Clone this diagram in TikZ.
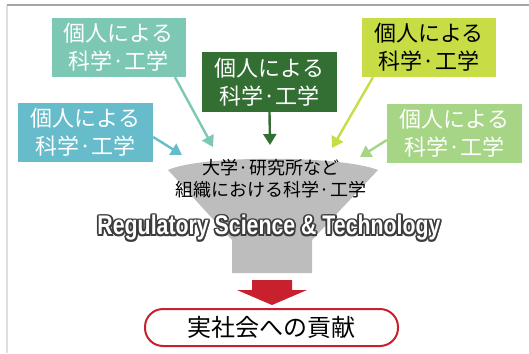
\documentclass[tikz,border=0pt]{standalone}
\usepackage{fontspec}
\usepackage{graphicx}
\setmainfont{Liberation Sans}
\newfontfamily\jp{Noto Sans CJK JP}
\usetikzlibrary{arrows.meta}
\definecolor{colA}{HTML}{7CC8B4}
\definecolor{colB}{HTML}{66BCCA}
\definecolor{colC}{HTML}{336E33}
\definecolor{colD}{HTML}{C8DC46}
\definecolor{colE}{HTML}{A6D586}
\definecolor{redc}{HTML}{C8202C}
\definecolor{funnelgray}{HTML}{BDBDBD}
\definecolor{regout}{HTML}{3C3C3C}
\tikzset{
  srcbox/.style={rectangle, inner sep=0pt, minimum width=134pt, minimum height=59pt,
    font=\jp\fontsize{22pt}{28pt}\selectfont, align=center},
  flow/.style={line width=2.4pt, -{Triangle[length=11pt,width=13pt]}},
  regtext/.style={inner sep=0pt, font=\bfseries},
}
\newcommand{\regline}{\resizebox{343pt}{19.5pt}{Regulatory Science \& Technology}}
\newcommand{\outcopy}[2]{\rlap{\hspace*{#1}\raisebox{#2}{\textcolor{regout}{\regline}}}}
\newcommand{\regoutlined}{\leavevmode
  \outcopy{1.8pt}{0pt}\outcopy{-1.8pt}{0pt}\outcopy{0pt}{1.8pt}\outcopy{0pt}{-1.8pt}%
  \outcopy{1.3pt}{1.3pt}\outcopy{-1.3pt}{1.3pt}\outcopy{1.3pt}{-1.3pt}\outcopy{-1.3pt}{-1.3pt}%
  \textcolor{white}{\regline}}
\begin{document}
\begin{tikzpicture}[x=1pt,y=-1pt]
\useasboundingbox (0,0) rectangle (529,353);
% frame lines
\draw[gray!25, line width=1.5pt] (7,5) -- (7,353);
\draw[gray!70, line width=1.5pt] (7,5) -- (529,5);
% funnel
\fill[funnelgray] (168,170) .. controls (200,155) and (340,155) .. (378,170)
  -- (312,240) -- (312,273) -- (232,273) -- (232,240) -- cycle;
% source boxes
\node[srcbox, fill=colA, text=white] (a) at (118.5,47.5) {個人による\\科学·工学};
\node[srcbox, fill=colB, text=white, minimum width=135pt] (b) at (85.5,132.5) {個人による\\科学·工学};
\node[srcbox, fill=colC, text=white, minimum width=135pt, minimum height=60pt] (c) at (269.5,82) {個人による\\科学·工学};
\node[srcbox, fill=colD, text=black] (d) at (429,47.5) {個人による\\科学·工学};
\node[srcbox, fill=colE, text=white, minimum width=135pt] (e) at (454.5,133.5) {個人による\\科学·工学};
% arrow targets
\coordinate (ta) at (213,147);
\coordinate (tb) at (182,155);
\coordinate (tc) at (270,145);
\coordinate (td) at (332,148);
\coordinate (te) at (360,157);
\draw[flow, colA] ([xshift=56.5pt]a.south) -- (ta);
\draw[flow, colB] ([yshift=-4.5pt]b.east) -- (tb);
\draw[flow, colC] (c.south) -- (tc);
\draw[flow, colD] ([xshift=-56pt]d.south) -- (td);
\draw[flow, colE] ([yshift=-6.5pt]e.west) -- (te);
% organisation text
\node[inner sep=0pt, align=center, font=\jp\fontsize{18pt}{22pt}\selectfont] (org) at (271,179)
  {大学·研究所など\\組織における科学·工学};
% Regulatory Science & Technology with outline
\node[regtext] (reg) at (269,228) {\regoutlined};
% red block arrow
\fill[redc] (252,280) -- (292,280) -- (292,290) -- (307,290) -- (272,305)
  -- (237,290) -- (252,290) -- cycle;
% result box
\node[draw=redc, line width=2pt, rounded corners=18pt, minimum width=253pt, minimum height=37pt,
  inner sep=0pt, font=\jp\fontsize{24pt}{28pt}\selectfont] (res) at (271.5,327.5) {実社会への貢献};
\end{tikzpicture}
\end{document}
